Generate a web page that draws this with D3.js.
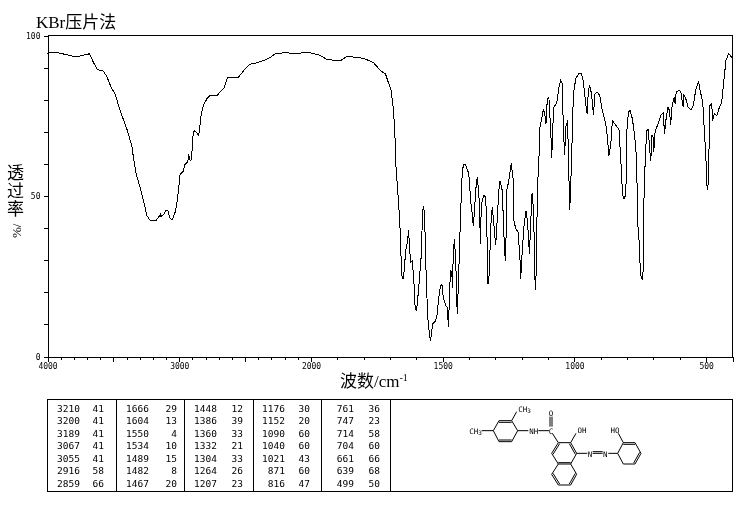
<!DOCTYPE html>
<html><head><meta charset="utf-8">
<script src="https://cdnjs.cloudflare.com/ajax/libs/d3/7.8.5/d3.min.js"></script>
<style>html,body{margin:0;padding:0;background:#fff}svg{display:block;will-change:transform}</style>
</head><body><div id="c"></div>
<script>
const titleText="KBr压片法";
const xTitle="波数/cm";
const yTitleChars=["透","过","率"];
const xLabelTicks=[4000,3000,2000,1500,1000,500];
const xMinorHigh=d3.range(2000,4001,100);
const xMinorLow=d3.range(400,2000,100);
const yTicks=d3.range(0,101,10);
const yLabelTicks=[0,50,100];
const wavenumber=[4000,3960,3905,3804,3753,3682,3652,3622,3576,3550,3517,3487,3449,3398,3360,3348,3328,3297,3272,3265,3246,3221,3176,3153,3140,3139,3120,3100,3087,3069,3052,3031,3018,3006,2993,2973,2955,2935,2930,2917,2907,2897,2887,2866,2852,2834,2817,2786,2766,2716,2660,2635,2551,2500,2467,2411,2360,2309,2271,2208,2132,2005,1965,1939,1889,1863,1800,1762,1737,1717,1709,1696,1688,1682,1678,1671,1663,1660,1654,1650,1645,1641,1636,1629,1627,1622,1616,1610,1606,1601,1597,1590,1582,1576,1572,1568,1563,1557,1550,1546,1543,1538,1527,1521,1515,1508,1503,1498,1489,1483,1478,1474,1470,1465,1464,1460,1456,1451,1445,1441,1436,1432,1428,1426,1420,1413,1401,1394,1388,1384,1379,1375,1369,1365,1359,1358,1353,1344,1337,1333,1328,1323,1318,1312,1306,1299,1294,1287,1283,1274,1265,1261,1257,1249,1240,1232,1230,1223,1214,1207,1204,1198,1192,1184,1179,1175,1171,1166,1162,1159,1154,1150,1147,1143,1141,1139,1135,1131,1122,1118,1112,1108,1103,1097,1090,1086,1083,1078,1067,1059,1052,1046,1042,1037,1033,1026,1023,1018,1014,1010,1004,995,983,974,966,957,952,947,942,935,928,922,913,904,894,881,875,869,862,856,843,831,824,821,818,814,809,805,802,801,795,789,780,774,767,763,761,757,753,751,747,743,739,737,734,730,729,725,720,714,710,706,702,699,694,685,672,663,658,653,645,639,635,629,621,618,614,602,596,587,586,577,568,558,549,539,529,523,513,507,501,498,496,492,490,488,486,479,475,469,459,450,441,434,425,415,402];
const transmittance=[94.4,94.8,94.5,93.5,93.6,94.3,91.7,89.4,88.9,87.2,83.9,81.8,76.6,70.9,65.7,62,57,52.7,48.6,47.6,43.9,42.4,42.4,43.6,44.6,43.6,44.2,45.5,45.5,42.9,42.6,45,47.6,51.7,56.9,57.4,60,60.5,62.9,61,61.3,68.3,70.4,69.6,68.8,75.1,78.2,80.6,81.3,81.2,83.7,86.8,87,89.6,91,91.5,92.2,93.2,94.3,94.6,94.5,94.6,93.8,92.5,92.1,93.5,92.9,91.5,89.1,88,86,82.9,77.7,70.4,60,51.7,42.4,34,24.2,24.2,27.8,33,34.6,39.3,35,29.4,29.7,24.7,16.4,14.3,15.9,22.6,30.9,45.5,47,41.3,25.8,12.2,6.5,4.8,7,10.2,11,13.3,18.5,22.1,22.4,18.5,15.9,15.4,9.1,20.6,26.8,26.3,21.2,30.9,36.7,30.9,13.1,21.6,34,45.5,51.7,57.9,59.8,59.8,56.9,48.6,44.5,40.8,45.5,51.7,55.9,52.7,45.5,35.1,47.6,50.2,49.6,41.4,22.6,25.8,40.3,46.5,41.3,34.6,41.3,51.7,54.8,51.7,32,29.9,51.7,54.8,60.2,54.8,42.4,39.9,38.7,30.9,24.2,33,40.3,45.3,42.4,38.3,31.8,41.3,50.2,51,41.3,24.2,20.6,36.1,51.7,54.8,61,71.4,75.1,77.2,75.1,72.5,80.2,80.8,70.4,61.9,70.4,77.6,79,83.9,86,84.9,70.4,62.9,71.4,73.5,63,45.5,53.3,64.2,81.8,86.5,88.3,88.3,85.5,78.7,75.6,82.9,84.4,81.8,75.4,81.8,82.3,81.3,76.6,72.5,68.3,62.6,66.2,73.5,72,70.9,61,56.9,51.2,49.1,49.4,51.2,61,70.4,76.1,76.8,74,70.4,65.2,57.9,44.5,37.2,35.6,28.8,24.7,24.2,26.8,43.9,59,59.5,65.2,70.4,70.7,64.2,61,68.8,68.8,63.6,69.9,72,75.1,75.9,69.4,73.5,77.6,76.6,72,78.2,80.8,78.7,82.3,82.9,82.3,77.6,81.8,80.2,77.6,76.8,78.2,83.3,85.8,82.9,79.2,70.4,62,55.3,51.9,53.8,61,70,78.2,78.7,73.5,75.6,75.1,77.6,79.2,84.9,92.2,94.3,93.2];
const peakWn=[[3210,3200,3189,3067,3055,2916,2859],[1666,1604,1550,1534,1489,1482,1467],[1448,1386,1360,1332,1304,1264,1207],[1176,1152,1090,1040,1021,871,816],[761,747,714,704,661,639,499]];
const peakT=[[41,41,41,41,41,58,66],[29,13,4,10,15,8,20],[12,39,33,21,33,26,23],[30,20,60,60,43,60,47],[36,23,58,60,66,68,50]];
const bondSingle=[[130,107,147,77],[185,77,203,107],[203,107,185,140],[147,140,130,107],[95,107,130,107],[185,77,200,50],[203,107,235,107],[265,107,297,107],[307,115,325,143],[325,143,362,143],[380,175,362,207],[325,207,305,175],[362,207,380,238],[362,270,325,270],[305,238,325,207],[362,143,378,115],[380,175,412,175],[475,175,503,175],[520,143,503,175],[555,143,573,175],[555,207,520,207],[520,143,505,115],[503,175,520,207]];
const bondDouble=[[147,77,185,77,0,5],[185,140,147,140,0,-5],[300,95,300,65,0,0],[306,95,306,65,0,0],[325,143,305,175,4,3],[362,143,380,175,-4,3],[362,207,325,207,0,-4],[380,238,362,270,-4,-3],[325,270,305,238,4,-3],[428,170,458,170,0,0],[428,175,458,175,0,0],[520,143,555,143,0,5],[573,175,555,207,-4,-3]];
const atomLabels=[["CH",58,107,"CH3"],["CH",205,41,"CH3"],["NH",251,107,""],["C",303,107,""],["O",303,55,""],["OH",396,106,""],["N",420,176,""],["N",466,176,""],["HO",495,106,""]];

const W=740,H=510,L=47.5,R=732.5,T=35.5,B=356.5;
const svg=d3.select("#c").append("svg").attr("width",W).attr("height",H).attr("viewBox",`0 0 ${W} ${H}`);
const x=d3.scaleLinear().domain([4000,2000,400]).range([L,311,R]);
const y=d3.scaleLinear().domain([0,100]).range([B,T]);
const tickFont='"DejaVu Sans Mono",monospace';

function styleAxis(g){g.select(".domain").attr("stroke","#000").attr("shape-rendering","crispEdges");
 g.selectAll("line").attr("stroke","#000").attr("shape-rendering","crispEdges");
 g.selectAll("text").attr("fill","#000").attr("font-family",tickFont).attr("font-size",8);}
const xMinor=svg.append("g").attr("transform",`translate(0,${B})`)
 .call(d3.axisBottom(x).tickValues(xMinorHigh.concat(xMinorLow)).tickSize(3).tickFormat(""));styleAxis(xMinor);
const xMajor=svg.append("g").attr("transform",`translate(0,${B})`)
 .call(d3.axisBottom(x).tickValues(xLabelTicks.concat([3500,2500])).tickSize(5).tickPadding(2)
 .tickFormat(d=>xLabelTicks.includes(d)?d:""));styleAxis(xMajor);
const yMinor=svg.append("g").attr("transform",`translate(${L},0)`)
 .call(d3.axisLeft(y).tickValues(yTicks).tickSize(4).tickPadding(3).tickFormat(d=>yLabelTicks.includes(d)?d:""));styleAxis(yMinor);
svg.append("g").attr("shape-rendering","crispEdges").selectAll("line").data([[L,T,R,T],[R,T,R,B]]).join("line")
 .attr("x1",d=>d[0]).attr("y1",d=>d[1]).attr("x2",d=>d[2]).attr("y2",d=>d[3]).attr("stroke","#000");

const pts=wavenumber.map((w,i)=>[w,transmittance[i]]);
svg.append("path").attr("d",d3.line().x(d=>x(d[0])).y(d=>y(d[1]))(pts))
 .attr("fill","none").attr("stroke","#000").attr("stroke-width",1).attr("shape-rendering","crispEdges");

const cjk='"Liberation Serif","Noto Sans CJK SC",serif';
svg.append("text").attr("x",36).attr("y",28).attr("font-family",cjk).attr("font-size",17).attr("fill","#000").text(titleText);
const xt=svg.append("text").attr("x",340).attr("y",387).attr("font-family",cjk).attr("font-size",17).attr("fill","#000").text(xTitle);
xt.append("tspan").attr("font-size",10).attr("dy",-6).text("-1");
yTitleChars.forEach((c,i)=>svg.append("text").attr("x",15.5).attr("y",179+i*18).attr("text-anchor","middle")
 .attr("font-family",cjk).attr("font-size",17).attr("fill","#000").text(c));
svg.append("text").attr("transform","translate(21,238) rotate(-90)").attr("font-family",cjk).attr("font-size",13).attr("fill","#000").text("%/");

// table
const tTop=399.5,tBot=491.5,seps=[47.5,116.5,184.5,253.5,321.5,390.5,732.5];
const tbl=svg.append("g").attr("shape-rendering","crispEdges").attr("stroke","#000");
tbl.append("rect").attr("x",seps[0]).attr("y",tTop).attr("width",seps[6]-seps[0]).attr("height",tBot-tTop).attr("fill","none");
tbl.selectAll("line").data(seps.slice(1,6)).join("line").attr("x1",d=>d).attr("x2",d=>d).attr("y1",tTop).attr("y2",tBot);
const wnRight=[80,149,217,285,354],tRight=[104,177,243,310,380];
const rowY=d3.scaleLinear().domain([0,6]).range([411.5,486.5]);
peakWn.forEach((col,c)=>col.forEach((w,r)=>{
 svg.append("text").attr("x",wnRight[c]).attr("y",rowY(r)).attr("text-anchor","end").attr("font-family",tickFont).attr("font-size",9.5).attr("fill","#000").text(w);
 svg.append("text").attr("x",tRight[c]).attr("y",rowY(r)).attr("text-anchor","end").attr("font-family",tickFont).attr("font-size",9.5).attr("fill","#000").text(peakT[c][r]);
}));

// structure
const mx=v=>450+v/3,my=v=>395+v/3;
const mol=svg.append("g").attr("stroke","#000").attr("stroke-width",1);
bondSingle.forEach(b=>mol.append("line").attr("x1",mx(b[0])).attr("y1",my(b[1])).attr("x2",mx(b[2])).attr("y2",my(b[3])));
bondDouble.forEach(b=>{mol.append("line").attr("x1",mx(b[0])).attr("y1",my(b[1])).attr("x2",mx(b[2])).attr("y2",my(b[3]));
 if(b[4]||b[5])mol.append("line").attr("x1",mx(b[0]+b[4])).attr("y1",my(b[1]+b[5])).attr("x2",mx(b[2]+b[4])).attr("y2",my(b[3]+b[5]));});
atomLabels.forEach(a=>{
 const t=svg.append("text").attr("x",mx(a[1])).attr("y",my(a[2])+3).attr("text-anchor",a[3]?"start":"middle")
  .attr("font-family",tickFont).attr("font-size",7.5).attr("fill","#000").text(a[0]);
 if(a[3]){t.append("tspan").attr("font-size",6).attr("dy",1).text("3");}
});
</script></body></html>
